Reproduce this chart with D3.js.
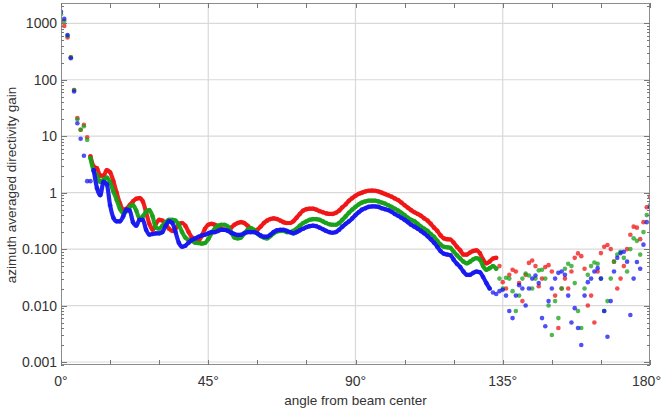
<!DOCTYPE html>
<html><head><meta charset="utf-8">
<script src="https://cdn.jsdelivr.net/npm/d3@7"></script>
<style>
html,body{margin:0;padding:0;background:#fff;}
svg{display:block;font-family:"Liberation Sans",Arial,sans-serif;}
</style></head>
<body><svg id="c" width="662" height="413"></svg>
<script>
// angle grid (degrees) at which the gains were sampled
const angles = d3.range(0, 181, 1);
const redGain = [
1100,900,560,250,66,21,13,16,9.6,4.4,2.9,
2.7,2.0,2.0,2.5,2.3,1.6,1.0,0.65,0.5,0.52,
0.6,0.7,0.78,0.8,0.7,0.45,0.28,0.22,0.28,0.33,
0.32,0.28,0.23,0.21,0.23,0.28,0.29,0.26,0.2,0.16,
0.14,0.14,0.17,0.23,0.27,0.28,0.27,0.25,0.23,0.22,
0.22,0.24,0.27,0.29,0.3,0.29,0.26,0.23,0.21,0.22,
0.25,0.29,0.32,0.34,0.35,0.34,0.32,0.3,0.29,0.29,
0.31,0.36,0.42,0.48,0.51,0.52,0.52,0.5,0.47,0.45,
0.43,0.42,0.42,0.44,0.48,0.55,0.62,0.72,0.8,0.88,
0.95,1.0,1.05,1.08,1.09,1.08,1.05,1.0,0.95,0.9,
0.85,0.79,0.74,0.67,0.6,0.54,0.49,0.45,0.42,0.39,
0.35,0.32,0.28,0.24,0.21,0.175,0.155,0.15,0.148,0.13,
0.11,0.095,0.08,0.08,0.087,0.093,0.095,0.085,0.065,0.056,
0.06,0.068,0.07,0.05,0.026,0.02,0.035,0.043,0.04,0.025,
0.012,0.035,0.057,0.063,0.05,0.022,0.03,0.048,0.052,0.04,
0.015,0.004,0.02,0.03,0.02,0.04,0.07,0.084,0.075,0.045,
0.01,0.015,0.005,0.04,0.085,0.11,0.118,0.1,0.06,0.02,
0.03,0.05,0.1,0.18,0.25,0.24,0.15,0.3,0.55,0.85];
const greenGain = [
1450,1100,600,250,66,20,13,15,8.6,4.1,2.4,
2.0,1.55,1.7,1.85,1.5,1.05,0.75,0.52,0.44,0.47,
0.56,0.6,0.48,0.35,0.38,0.46,0.49,0.38,0.24,0.23,
0.26,0.3,0.33,0.33,0.32,0.27,0.2,0.16,0.145,0.14,
0.13,0.128,0.125,0.128,0.15,0.19,0.23,0.26,0.27,0.27,
0.25,0.2,0.16,0.155,0.16,0.19,0.22,0.235,0.22,0.19,
0.17,0.16,0.155,0.17,0.19,0.205,0.21,0.21,0.2,0.2,
0.21,0.23,0.26,0.29,0.31,0.33,0.34,0.34,0.33,0.31,
0.29,0.275,0.27,0.27,0.29,0.33,0.38,0.44,0.5,0.56,
0.62,0.67,0.7,0.72,0.72,0.72,0.7,0.67,0.64,0.6,
0.56,0.52,0.48,0.44,0.4,0.36,0.33,0.31,0.28,0.25,
0.23,0.21,0.185,0.165,0.14,0.12,0.11,0.108,0.105,0.09,
0.078,0.068,0.06,0.056,0.06,0.066,0.069,0.065,0.05,0.043,
0.046,0.05,0.045,0.03,0.02,0.031,0.03,0.018,0.008,0.015,
0.03,0.037,0.034,0.02,0.03,0.042,0.043,0.03,0.01,0.003,
0.012,0.006,0.02,0.045,0.055,0.05,0.025,0.008,0.004,0.02,
0.035,0.05,0.058,0.055,0.03,0.008,0.012,0.03,0.06,0.08,
0.09,0.07,0.04,0.1,0.155,0.14,0.08,0.2,0.4,0.6];
const blueGain = [
1600,1200,620,240,62,17,9,4.5,1.6,1.6,2.5,
1.2,0.9,1.55,1.4,0.6,0.36,0.31,0.31,0.38,0.5,
0.48,0.3,0.26,0.33,0.33,0.22,0.18,0.185,0.19,0.19,
0.2,0.26,0.31,0.29,0.2,0.13,0.11,0.115,0.13,0.145,
0.155,0.165,0.175,0.18,0.19,0.2,0.2,0.21,0.22,0.22,
0.21,0.195,0.185,0.178,0.18,0.19,0.2,0.2,0.2,0.19,
0.175,0.166,0.166,0.18,0.2,0.215,0.22,0.22,0.21,0.2,
0.19,0.2,0.215,0.23,0.245,0.255,0.26,0.255,0.24,0.225,
0.21,0.2,0.195,0.2,0.22,0.25,0.28,0.31,0.35,0.4,
0.45,0.5,0.53,0.56,0.57,0.57,0.56,0.53,0.51,0.49,
0.46,0.42,0.39,0.36,0.33,0.3,0.27,0.25,0.23,0.21,
0.19,0.17,0.15,0.13,0.11,0.092,0.083,0.08,0.078,0.065,
0.055,0.048,0.04,0.035,0.035,0.038,0.04,0.039,0.032,0.025,
0.02,0.017,0.016,0.018,0.019,0.015,0.008,0.006,0.015,0.023,
0.02,0.01,0.02,0.03,0.034,0.025,0.006,0.0043,0.012,0.02,
0.03,0.038,0.04,0.035,0.015,0.005,0.009,0.004,0.002,0.015,
0.026,0.03,0.04,0.046,0.03,0.008,0.0028,0.012,0.04,0.07,
0.085,0.09,0.06,0.0068,0.03,0.059,0.045,0.12,0.3,0.55];

const xTickValues = [0,15,30,45,60,75,90,105,120,135,150,165,180];
const xLabelValues = [0,45,90,135,180];
const xLabels = ["0°","45°","90°","135°","180°"];
const yTickValues = [1000,100,10,1,0.1,0.01,0.001];
const yTickLabels = ["1000","100","10","1","0.100","0.010","0.001"];
const xDomain = [0,180];
const yDomain = [0.000885, 2290];
const seriesColors = ["#f01414","#18a018","#1616f0"];
// angular range over which the dense sampling reads as a continuous band
const bandRange = [[9,133],[9,133],[10,131]];

const W=662, L=61, R=650, T=3, B=365;
const svg = d3.select("#c");
const x = d3.scaleLinear().domain(xDomain).range([L,R]);
const y = d3.scaleLog().domain(yDomain).range([B,T]);

// grid
const grid = svg.append("g");
grid.selectAll("line.h").data(yTickValues).join("line")
  .attr("x1",L).attr("x2",R).attr("y1",d=>y(d)).attr("y2",d=>y(d))
  .attr("stroke","#d9d9d9").attr("stroke-width",1.2);
grid.selectAll("line.v").data([45,90,135]).join("line")
  .attr("y1",T).attr("y2",B).attr("x1",d=>x(d)).attr("x2",d=>x(d))
  .attr("stroke","#d9d9d9").attr("stroke-width",1.2);

// data
const series = [redGain, greenGain, blueGain];
svg.append("clipPath").attr("id","pc").append("rect")
  .attr("x",L).attr("y",T).attr("width",R-L).attr("height",B-T);
const gd = svg.append("g").attr("clip-path","url(#pc)");
const line = d3.line().x(d=>x(d[0])).y(d=>y(d[1])).curve(d3.curveMonotoneX);
series.forEach((vals,i)=>{
  const pts = vals.map((v,k)=>[angles[k],v]);
  const band = pts.filter(d=>d[0]>=bandRange[i][0] && d[0]<=bandRange[i][1]);
  gd.append("path").datum(band).attr("d",line).attr("fill","none")
    .attr("stroke",seriesColors[i]).attr("stroke-width",4.2).attr("stroke-linecap","round")
    .attr("stroke-linejoin","round").attr("stroke-opacity",0.95);
  gd.append("g").selectAll("circle").data(pts).join("circle")
    .attr("cx",d=>x(d[0])).attr("cy",d=>y(d[1])).attr("r",2.3)
    .attr("fill",seriesColors[i]).attr("fill-opacity",0.75);
});

// frame
svg.append("rect").attr("x",L+0.5).attr("y",T+0.5).attr("width",R-L-1).attr("height",B-T-1)
  .attr("fill","none").attr("stroke","#8c8c8c").attr("stroke-width",1);

// ticks
const tk = svg.append("g").attr("stroke","#777").attr("stroke-width",1);
xTickValues.forEach(v=>{
  const px = Math.round(x(v))+0.5;
  tk.append("line").attr("x1",px).attr("x2",px).attr("y1",B).attr("y2",B-5);
  tk.append("line").attr("x1",px).attr("x2",px).attr("y1",T).attr("y2",T+5);
});
const minor=[];
for(let e=-4;e<=3;e++){for(let m=1;m<=9;m++){const v=m*Math.pow(10,e); if(v>=yDomain[0]&&v<=yDomain[1]) minor.push([v,m===1]);}}
minor.forEach(([v,major])=>{
  const py = Math.round(y(v))+0.5; const len = major?6:3;
  tk.append("line").attr("x1",L).attr("x2",L+len).attr("y1",py).attr("y2",py);
  tk.append("line").attr("x1",R).attr("x2",R-len).attr("y1",py).attr("y2",py);
});

// labels
const lab = svg.append("g").attr("fill","#333");
yTickValues.forEach((v,i)=>{
  lab.append("text").attr("x",57).attr("y",y(v)).attr("dy","0.36em").attr("font-size",14)
    .attr("text-anchor","end").text(yTickLabels[i]);
});
xLabelValues.forEach((v,i)=>{
  const t = lab.append("text").attr("y",386).attr("font-size",14)
    .attr("text-anchor","middle").text(xLabels[i]);
  const w = t.node().getComputedTextLength();
  t.attr("x", Math.min(x(v), W - 1 - w/2));
});
lab.append("text").attr("x",(L+R)/2).attr("y",405).attr("font-size",13.5)
  .attr("text-anchor","middle").text("angle from beam center");
lab.append("text").attr("transform","translate(16,185) rotate(-90)").attr("font-size",13.5)
  .attr("text-anchor","middle").text("azimuth averaged directivity gain");
</script></body></html>
